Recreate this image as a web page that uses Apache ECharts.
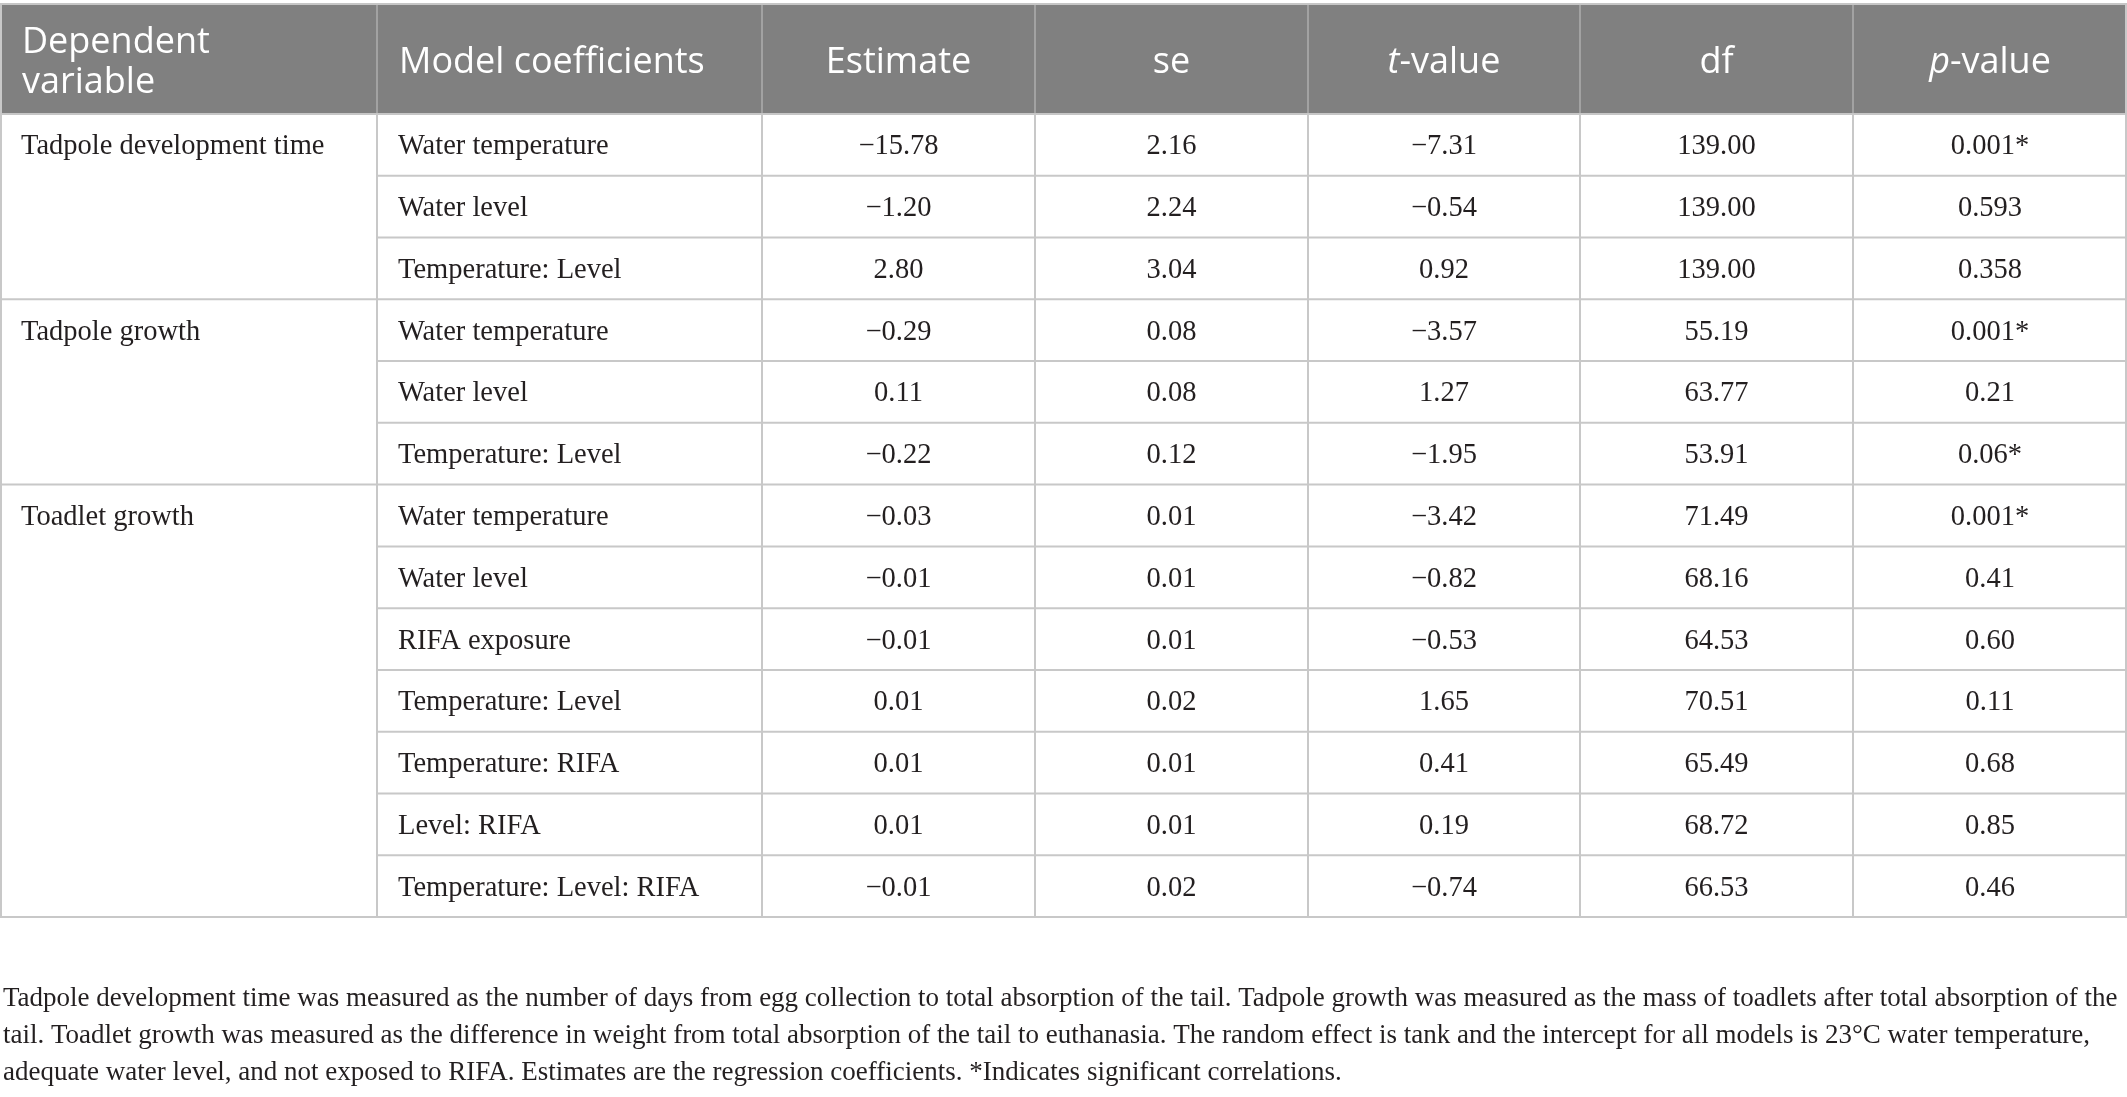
<!DOCTYPE html>
<html>
<head>
<meta charset="utf-8">
<script src="https://cdn.jsdelivr.net/npm/echarts@6/dist/echarts.min.js"></script>
<style>
  html, body { margin: 0; padding: 0; background: #fff; }
  #main { width: 2127px; height: 1097px; }
</style>
</head>
<body>
<div id="main"></div>
<script>
// table content
const headers = ['Dependent\nvariable', 'Model coefficients', 'Estimate', 'se', '{i|t}-value', 'df', '{i|p}-value'];
const groups = ['Tadpole development time', 'Tadpole growth', 'Toadlet growth'];
const groupSizes = [3, 3, 7];
const coefficients = [
    'Water temperature', 'Water level', 'Temperature: Level',
    'Water temperature', 'Water level', 'Temperature: Level',
    'Water temperature', 'Water level', 'RIFA exposure', 'Temperature: Level',
    'Temperature: RIFA', 'Level: RIFA', 'Temperature: Level: RIFA'
];
const estimates = [-15.78, -1.20, 2.80, -0.29, 0.11, -0.22, -0.03, -0.01, -0.01, 0.01, 0.01, 0.01, -0.01];
const seValues = [2.16, 2.24, 3.04, 0.08, 0.08, 0.12, 0.01, 0.01, 0.01, 0.02, 0.01, 0.01, 0.02];
const tValues = [-7.31, -0.54, 0.92, -3.57, 1.27, -1.95, -3.42, -0.82, -0.53, 1.65, 0.41, 0.19, -0.74];
const dfValues = [139.00, 139.00, 139.00, 55.19, 63.77, 53.91, 71.49, 68.16, 64.53, 70.51, 65.49, 68.72, 66.53];
const pValues = ['0.001*', '0.593', '0.358', '0.001*', '0.21', '0.06*', '0.001*', '0.41', '0.60', '0.11', '0.68', '0.85', '0.46'];
const footnote = [
    'Tadpole development time was measured as the number of days from egg collection to total absorption of the tail. Tadpole growth was measured as the mass of toadlets after total absorption of the',
    'tail. Toadlet growth was measured as the difference in weight from total absorption of the tail to euthanasia. The random effect is tank and the intercept for all models is 23°C water temperature,',
    'adequate water level, and not exposed to RIFA. Estimates are the regression coefficients. *Indicates significant correlations.'
];

// layout (pixel units of the axes)
const colWidths = [377, 385, 273, 273, 272, 273, 274];
const colX = [0];
colWidths.forEach(function (w) { colX.push(colX[colX.length - 1] + w); });
const headTop = 5, headBottom = 114, rowH = 61.77;
const rowY = function (i) { return headBottom + i * rowH; };
const nRows = coefficients.length;

function fmt(v) {
    return (v < 0 ? '\u2212' : '') + Math.abs(v).toFixed(2);
}

// cells: value = [x0, y0, x1, y1, textY]
const cells = [];
headers.forEach(function (h, c) {
    cells.push({value: [colX[c], headTop, colX[c + 1], headBottom, 63], text: h, kind: 'head', left: c < 2});
});
let start = 0;
groups.forEach(function (g, k) {
    cells.push({value: [colX[0], rowY(start), colX[1], rowY(start + groupSizes[k]), rowY(start) + rowH / 2 + 2], text: g, kind: 'body', left: true});
    start += groupSizes[k];
});
for (let r = 0; r < nRows; r++) {
    const cols = [coefficients[r], fmt(estimates[r]), seValues[r].toFixed(2), fmt(tValues[r]), dfValues[r].toFixed(2), pValues[r]];
    cols.forEach(function (txt, j) {
        const c = j + 1;
        cells.push({value: [colX[c], rowY(r), colX[c + 1], rowY(r + 1), rowY(r) + rowH / 2 + 2], text: txt, kind: 'body', left: c < 2});
    });
}

// border lines: [x0, y0, x1, y1]
const lines = [];
const lineColors = [];
function addLine(a, color) { lines.push(a); lineColors.push(color); }
addLine([0, 4, colX[7], 4], '#c6c6c6');
addLine([0, headBottom, colX[7], headBottom], '#c6c6c6');
for (let c = 1; c < 7; c++) {
    addLine([colX[c], headTop, colX[c], headBottom - 1], '#a2a2a2');
    addLine([colX[c], headBottom, colX[c], rowY(nRows)], '#c8c8c8');
}
addLine([1, 4, 1, rowY(nRows)], '#c8c8c8');
addLine([colX[7] - 1, 4, colX[7] - 1, rowY(nRows)], '#c8c8c8');
const groupEnds = [];
groupSizes.reduce(function (acc, s) { groupEnds.push(acc + s); return acc + s; }, 0);
for (let i = 1; i <= nRows; i++) {
    const x0 = groupEnds.indexOf(i) >= 0 ? 0 : colX[1];
    addLine([x0, rowY(i), colX[7], rowY(i)], '#c8c8c8');
}

const myChart = echarts.init(document.getElementById('main'));

const option = {
    backgroundColor: '#ffffff',
    animation: false,
    title: {
        text: footnote.join('\n'),
        left: 3,
        top: 980,
        padding: 0,
        textStyle: {
            fontFamily: '"Liberation Serif", serif',
            fontSize: 27,
            fontWeight: 'normal',
            color: '#231f20',
            lineHeight: 37
        }
    },
    grid: {left: 0, right: 0, top: 0, bottom: 0},
    xAxis: {type: 'value', min: 0, max: 2127, show: false},
    yAxis: {type: 'value', min: 0, max: 1097, inverse: true, show: false},
    series: [
        {
            type: 'custom',
            name: 'cells',
            clip: false,
            silent: true,
            encode: {x: [0, 2], y: [1, 3, 4]},
            data: cells.map(function (c) { return c.value; }),
            renderItem: function (params, api) {
                const cell = cells[params.dataIndex];
                const p0 = api.coord([api.value(0), api.value(1)]);
                const p1 = api.coord([api.value(2), api.value(3)]);
                const ty = api.coord([0, api.value(4)])[1];
                const head = cell.kind === 'head';
                const children = [];
                if (head) {
                    children.push({
                        type: 'rect',
                        shape: {x: p0[0], y: p0[1], width: p1[0] - p0[0], height: p1[1] - p0[1]},
                        style: {fill: '#808080'}
                    });
                }
                children.push({
                    type: 'text',
                    style: {
                        text: cell.text,
                        x: cell.left ? p0[0] + (head ? 22 : 21) : (p0[0] + p1[0]) / 2,
                        y: ty,
                        align: cell.left ? 'left' : 'center',
                        verticalAlign: 'middle',
                        fill: head ? '#ffffff' : '#231f20',
                        fontFamily: head ? '"Open Sans", sans-serif' : '"Liberation Serif", serif',
                        fontSize: head ? 36 : 28.5,
                        lineHeight: 40,
                        rich: {
                            i: {
                                fontStyle: 'italic',
                                fontFamily: '"Open Sans", sans-serif',
                                fontSize: 36,
                                fill: '#ffffff'
                            }
                        }
                    }
                });
                return {type: 'group', children: children};
            }
        },
        {
            type: 'custom',
            name: 'borders',
            clip: false,
            silent: true,
            z: 3,
            encode: {x: [0, 2], y: [1, 3]},
            data: lines,
            renderItem: function (params, api) {
                const a = api.coord([api.value(0), api.value(1)]);
                const b = api.coord([api.value(2), api.value(3)]);
                return {
                    type: 'line',
                    shape: {x1: a[0], y1: a[1], x2: b[0], y2: b[1]},
                    style: {stroke: lineColors[params.dataIndex], lineWidth: 2}
                };
            }
        }
    ]
};

myChart.setOption(option);
window.onresize = myChart.resize;
</script>
</body>
</html>
